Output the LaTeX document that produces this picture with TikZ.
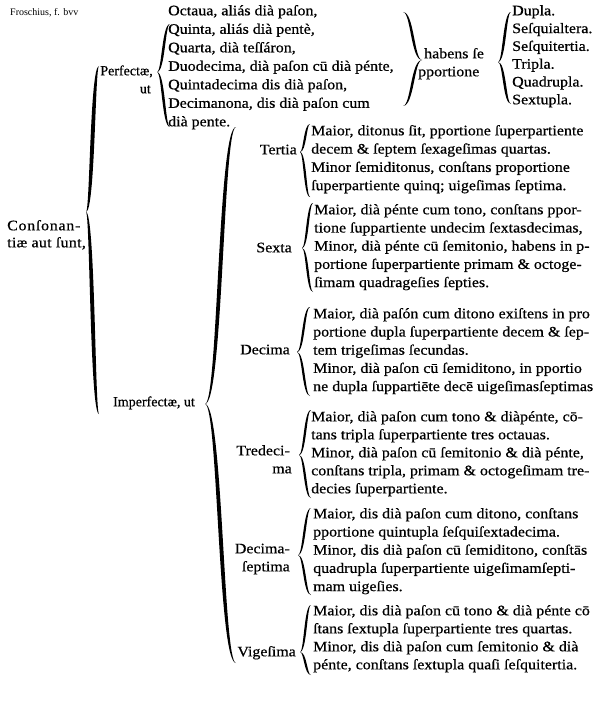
\documentclass[tikz,border=0pt]{standalone}
\usepackage{fontspec}
\setmainfont{Liberation Serif}[FakeStretch=1.1, FakeBold=0.6]
\newfontfamily\notefont{Liberation Serif}
\newfontfamily\headfont{Liberation Serif}[FakeBold=0.6]
\usetikzlibrary{positioning}

% filled curly brace: tip x, tip y, end x, top y, bottom y, half thickness
\newcommand{\curly}[6]{%
  \pgfmathsetmacro{\midx}{(#1+#3)/2}%
  \fill (#3,#4) .. controls (\midx-#6,#4) and (\midx-#6,#2) .. (#1,#2)
        .. controls (\midx+#6,#2) and (\midx+#6,#4) .. (#3,#4);
  \fill (#1,#2) .. controls (\midx-#6,#2) and (\midx-#6,#5) .. (#3,#5)
        .. controls (\midx+#6,#5) and (\midx+#6,#2) .. (#1,#2);
}

\begin{document}
\begin{tikzpicture}[x=1pt, y=-1pt,
    txt/.style = {font=\fontsize{14.5}{17}\selectfont, inner sep=0pt, anchor=mid west},
    lbl/.style = {txt, anchor=mid east},
    head/.style = {font=\headfont\fontsize{14}{16}\selectfont, inner sep=0pt},
    note/.style = {font=\notefont\fontsize{10}{12}\selectfont, inner sep=0pt, anchor=mid west}
]
\fill[white] (0,0) rectangle (612,706);
\useasboundingbox (0,0) rectangle (612,706);

\node (src) [note] at (10,13) {Froschius, f. bvv};

% consonantiae perfectae
\node (cons1) [txt] at (7,228) {\addfontfeatures{LetterSpace=5}Conſonan-};
\node (cons2) [txt] at (7,245) {\addfontfeatures{LetterSpace=2}tiæ aut ſunt,};
\node (perf) [head, anchor=mid east] at (153,73) {Perfectæ,};
\node (perfut) [head, anchor=mid east] at (151,91) {ut};
\foreach \t [count=\i from 0] in {{Octaua, aliás dià paſon,},{Quinta, aliás dià pentè,},
    {Quarta, dià teſſáron,},{Duodecima, dià paſon cū dià pénte,},{Quintadecima dis dià paſon,},
    {Decimanona, dis dià paſon cum},{dià pente.}}
  \node (perf\i) [txt] at (168,13+18.5*\i) {\t};
\node (hab1) [txt] at (424,56) {habens ſe};
\node (hab2) [txt] at (418,74) {pportione};
\foreach \t [count=\i from 0] in {Dupla.,Seſquialtera.,Seſquitertia.,Tripla.,Quadrupla.,Sextupla.}
  \node (prop\i) [txt] at (512,13+17.8*\i) {\t};

% consonantiae imperfectae
\node (imp) [head, anchor=mid west] at (113,404) {Imperfectæ, ut};

\node (ter) [lbl] at (297,152) {Tertia};
\foreach \t [count=\i from 0] in {{Maior, ditonus ſit, pportione ſuperpartiente},
    {decem \& ſeptem ſexageſimas quartas.},{Minor ſemiditonus, conſtans proportione},
    {ſuperpartiente quinq; uigeſimas ſeptima.}}
  \node (ter\i) [txt] at (311,133+18.3*\i) {\t};

\node (sex) [lbl] at (292,250) {Sexta};
\foreach \t [count=\i from 0] in {{Maior, dià pénte cum tono, conſtans ppor-},
    {tione ſuppartiente undecim ſextasdecimas,},{Minor, dià pénte cū ſemitonio, habens in p-},
    {portione ſuperpartiente primam \& octoge-},{ſimam quadrageſies ſepties.}}
  \node (sex\i) [txt] at (314,212+18.2*\i) {\t};

\node (dec) [lbl] at (290,352) {Decima};
\foreach \t [count=\i from 0] in {{Maior, dià paſón cum ditono exiſtens in pro},
    {portione dupla ſuperpartiente decem \& ſep-},{tem trigeſimas ſecundas.},
    {Minor, dià paſon cū ſemiditono, in pportio},{ne dupla ſuppartiēte decē uigeſimasſeptimas}}
  \node (dec\i) [txt] at (313,316+18.2*\i) {\t};

\node (tre1) [lbl] at (290,453) {Tredeci-};
\node (tre2) [lbl] at (292,471) {ma};
\foreach \t [count=\i from 0] in {{Maior, dià paſon cum tono \& diàpénte, cō-},
    {tans tripla ſuperpartiente tres octauas.},{Minor, dià paſon cū ſemitonio \& dià pénte,},
    {conſtans tripla, primam \& octogeſimam tre-},{decies ſuperpartiente.}}
  \node (tre\i) [txt] at (311,419+18*\i) {\t};

\node (sep1) [lbl] at (290,551) {Decima-};
\node (sep2) [lbl] at (290,569) {ſeptima};
\foreach \t [count=\i from 0] in {{Maior, dis dià paſon cum ditono, conſtans},
    {pportione quintupla ſeſquiſextadecima.},{Minor, dis dià paſon cū ſemiditono, conſtās},
    {quadrupla ſuperpartiente uigeſimamſepti-},{mam uigeſies.}}
  \node (sep\i) [txt] at (313,516+18.2*\i) {\t};

\node (vig) [lbl] at (296,654) {Vigeſima};
\foreach \t [count=\i from 0] in {{Maior, dis dià paſon cū tono \& dià pénte cō},
    {ſtans ſextupla ſuperpartiente tres quartas.},{Minor, dis dià paſon cum ſemitonio \& dià},
    {pénte, conſtans ſextupla quaſi ſeſquitertia.}}
  \node (vig\i) [txt] at (313,613+18*\i) {\t};

% braces
\curly{86}{212}{99}{66}{414}{2.6}
\curly{157}{72}{170}{24}{127}{1.7}
\curly{422}{60}{403}{12}{106}{1.7}
\curly{498}{62}{511}{12}{104}{1.7}
\curly{205}{404}{236}{127}{663}{2.6}
\curly{300}{152}{310}{124}{197}{1.5}
\curly{302}{248}{313}{203}{292}{1.5}
\curly{297}{352}{310}{307}{396}{1.5}
\curly{299}{455}{311}{410}{498}{1.5}
\curly{298}{555}{311}{508}{595}{1.5}
\curly{300}{652}{311}{605}{675}{1.5}
\end{tikzpicture}
\end{document}
